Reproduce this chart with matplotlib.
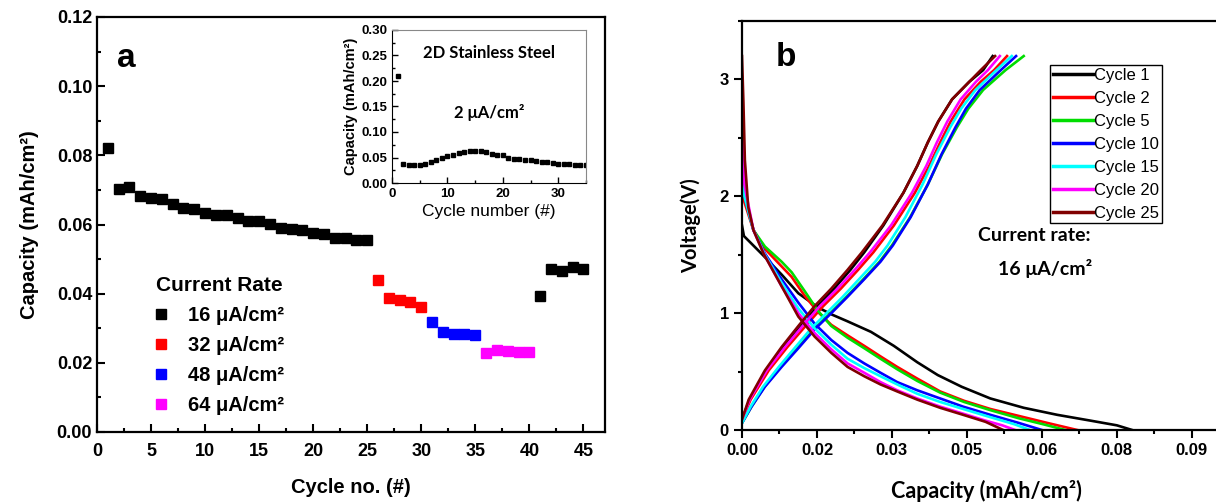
import matplotlib.pyplot as plt
import matplotlib as mpl
from matplotlib.ticker import MultipleLocator, FixedLocator, FixedFormatter

mpl.rcParams['font.family'] = ['Liberation Sans', 'DejaVu Sans']
mpl.rcParams['font.weight'] = 'bold'

# ---------------- panel a: rate capability ----------------
cyc_16a = list(range(1, 26))
cap_16a = [0.0822, 0.0704, 0.0707, 0.0682, 0.0678, 0.0673, 0.0659, 0.0647, 0.0646, 0.0632,
           0.0627, 0.0627, 0.0620, 0.0609, 0.0609, 0.0601, 0.0589, 0.0588, 0.0585, 0.0576,
           0.0572, 0.0561, 0.0561, 0.0555, 0.0555]
cyc_32 = [26, 27, 28, 29, 30]
cap_32 = [0.0440, 0.0388, 0.0383, 0.0377, 0.0361]
cyc_48 = [31, 32, 33, 34, 35]
cap_48 = [0.0317, 0.0290, 0.0283, 0.0283, 0.0280]
cyc_64 = [36, 37, 38, 39, 40]
cap_64 = [0.0227, 0.0237, 0.0235, 0.0231, 0.0231]
cyc_16b = [41, 42, 43, 44, 45]
cap_16b = [0.0394, 0.0470, 0.0466, 0.0476, 0.0470]
rate_labels = ['16 μA/cm²', '32 μA/cm²', '48 μA/cm²', '64 μA/cm²']

# inset: 2D stainless steel
ss_cyc = list(range(1, 36))
ss_cap = [0.210, 0.038, 0.035, 0.036, 0.036, 0.038, 0.042, 0.045, 0.050, 0.053,
          0.055, 0.058, 0.061, 0.063, 0.063, 0.062, 0.061, 0.056, 0.055, 0.054,
          0.050, 0.048, 0.047, 0.046, 0.045, 0.044, 0.042, 0.041, 0.039, 0.038,
          0.037, 0.037, 0.036, 0.035, 0.035]

# ---------------- panel b: voltage profiles ----------------
cycle_names = ['Cycle 1', 'Cycle 2', 'Cycle 5', 'Cycle 10', 'Cycle 15', 'Cycle 20', 'Cycle 25']
cycle_colors = ['#000000', '#ff0000', '#00dd00', '#0000ff', '#00ffff', '#ff00ff', '#800000']

dis_cap = [
    [0, 0.0004, 0.0043, 0.0083, 0.0118, 0.0159, 0.0187, 0.0221, 0.0270, 0.0318, 0.0367, 0.0410,
     0.0460, 0.0520, 0.0590, 0.0660, 0.0730, 0.0785, 0.0817],
    [0, 0.0005, 0.0024, 0.0048, 0.0083, 0.0104, 0.0131, 0.0159, 0.0187, 0.0221, 0.0256, 0.0290,
     0.0325, 0.0367, 0.0415, 0.0465, 0.0520, 0.0580, 0.0640, 0.0702],
    [0, 0.0005, 0.0024, 0.0048, 0.0083, 0.0104, 0.0131, 0.0159, 0.0187, 0.0221, 0.0256, 0.0290,
     0.0325, 0.0367, 0.0415, 0.0465, 0.0520, 0.0580, 0.0630, 0.0677],
    [0, 0.0005, 0.0024, 0.0048, 0.0083, 0.0118, 0.0152, 0.0187, 0.0221, 0.0256, 0.0290, 0.0325,
     0.0367, 0.0415, 0.0463, 0.0520, 0.0580, 0.0628],
    [0, 0.0005, 0.0024, 0.0048, 0.0083, 0.0118, 0.0152, 0.0187, 0.0221, 0.0256, 0.0290, 0.0325,
     0.0367, 0.0415, 0.0463, 0.0520, 0.0570, 0.0603],
    [0, 0.0005, 0.0024, 0.0048, 0.0083, 0.0118, 0.0152, 0.0187, 0.0221, 0.0256, 0.0290, 0.0325,
     0.0367, 0.0415, 0.0463, 0.0510, 0.0545, 0.0572],
    [0, 0.0003, 0.0006, 0.0013, 0.0024, 0.0045, 0.0083, 0.0118, 0.0152, 0.0187, 0.0221, 0.0256,
     0.0290, 0.0325, 0.0367, 0.0415, 0.0463, 0.0510, 0.0547],
]
dis_v = [
    [1.75, 1.66, 1.50, 1.33, 1.17, 1.05, 0.99, 0.93, 0.84, 0.72, 0.58, 0.47, 0.37, 0.27, 0.19,
     0.13, 0.08, 0.04, 0.0],
    [2.30, 1.95, 1.71, 1.55, 1.40, 1.31, 1.15, 1.01, 0.90, 0.81, 0.72, 0.63, 0.54, 0.44, 0.33,
     0.25, 0.18, 0.12, 0.06, 0.0],
    [2.43, 2.00, 1.71, 1.57, 1.44, 1.35, 1.19, 1.02, 0.89, 0.79, 0.70, 0.61, 0.52, 0.42, 0.32,
     0.24, 0.17, 0.10, 0.05, 0.0],
    [2.54, 2.00, 1.71, 1.51, 1.29, 1.09, 0.91, 0.77, 0.66, 0.57, 0.49, 0.41, 0.34, 0.27, 0.20,
     0.13, 0.06, 0.0],
    [2.54, 2.00, 1.71, 1.50, 1.26, 1.04, 0.87, 0.73, 0.61, 0.53, 0.46, 0.39, 0.31, 0.24, 0.18,
     0.11, 0.05, 0.0],
    [2.60, 2.10, 1.71, 1.49, 1.23, 1.00, 0.83, 0.69, 0.57, 0.49, 0.41, 0.34, 0.27, 0.20, 0.14,
     0.08, 0.04, 0.0],
    [3.20, 2.80, 2.31, 1.91, 1.71, 1.51, 1.23, 0.97, 0.80, 0.66, 0.54, 0.46, 0.39, 0.33, 0.26,
     0.19, 0.13, 0.07, 0.0],
]

chg_cap = [
    [0, 0.0016, 0.0052, 0.0088, 0.0124, 0.0158, 0.0193, 0.0227, 0.0256, 0.0296, 0.0338, 0.0367,
     0.0389, 0.0411, 0.0440, 0.0476, 0.0505, 0.0525],
    [0, 0.0018, 0.0056, 0.0095, 0.0133, 0.0170, 0.0207, 0.0243, 0.0275, 0.0318, 0.0362, 0.0392,
     0.0415, 0.0437, 0.0466, 0.0500, 0.0528, 0.0555],
    [0, 0.0020, 0.0047, 0.0081, 0.0116, 0.0150, 0.0185, 0.0219, 0.0254, 0.0288, 0.0314, 0.0352,
     0.0389, 0.0419, 0.0450, 0.0474, 0.0505, 0.0552, 0.0590],
    [0, 0.0020, 0.0048, 0.0083, 0.0118, 0.0152, 0.0187, 0.0221, 0.0256, 0.0290, 0.0316, 0.0353,
     0.0389, 0.0418, 0.0447, 0.0469, 0.0498, 0.0542, 0.0574],
    [0, 0.0018, 0.0044, 0.0077, 0.0110, 0.0143, 0.0177, 0.0211, 0.0245, 0.0279, 0.0305, 0.0342,
     0.0378, 0.0407, 0.0436, 0.0459, 0.0489, 0.0533, 0.0565],
    [0, 0.0016, 0.0052, 0.0090, 0.0127, 0.0163, 0.0200, 0.0236, 0.0268, 0.0312, 0.0356, 0.0386,
     0.0408, 0.0430, 0.0458, 0.0490, 0.0515, 0.0540],
    [0, 0.0014, 0.0048, 0.0083, 0.0118, 0.0152, 0.0187, 0.0221, 0.0251, 0.0294, 0.0338, 0.0367,
     0.0389, 0.0411, 0.0440, 0.0476, 0.0500, 0.0530],
]
v_slow = [0.09, 0.26, 0.51, 0.71, 0.89, 1.06, 1.21, 1.37, 1.52, 1.75, 2.03, 2.26, 2.46, 2.64,
          2.83, 2.98, 3.08, 3.20]
v_fast = [0.06, 0.20, 0.37, 0.54, 0.70, 0.86, 1.00, 1.14, 1.29, 1.44, 1.58, 1.82, 2.10, 2.36,
          2.59, 2.75, 2.91, 3.08, 3.20]
chg_v = [v_slow, v_slow, v_fast, v_fast, v_fast, v_slow, v_slow]

xtick_b = [0, 0.0157, 0.0314, 0.0471, 0.0628, 0.0785, 0.0942]
xtick_b_labels = ['0.00', '0.02', '0.03', '0.05', '0.06', '0.08', '0.09']

# ---------------- figure ----------------
fig = plt.figure(figsize=(12.16, 5.03), dpi=100)

# panel a
ax = fig.add_axes([97 / 1216, 71 / 503, 508 / 1216, 415 / 503])
ms = 7
ax.plot(cyc_16a, cap_16a, 's', color='black', ms=ms, label=rate_labels[0])
ax.plot(cyc_32, cap_32, 's', color='#ff0000', ms=ms, label=rate_labels[1])
ax.plot(cyc_48, cap_48, 's', color='#0000ff', ms=ms, label=rate_labels[2])
ax.plot(cyc_64, cap_64, 's', color='#ff00ff', ms=ms, label=rate_labels[3])
ax.plot(cyc_16b, cap_16b, 's', color='black', ms=ms)
ax.set_xlim(0, 47)
ax.set_ylim(0, 0.12)
ax.xaxis.set_major_locator(MultipleLocator(5))
ax.xaxis.set_minor_locator(MultipleLocator(2.5))
ax.yaxis.set_major_locator(MultipleLocator(0.02))
ax.yaxis.set_minor_locator(MultipleLocator(0.01))
ax.yaxis.set_major_formatter(mpl.ticker.FormatStrFormatter('%.2f'))
ax.tick_params(which='both', direction='in', width=1.5, labelsize=13)
ax.tick_params(axis='x', pad=8)
ax.tick_params(which='major', length=6)
ax.tick_params(which='minor', length=3)
for s in ax.spines.values():
    s.set_linewidth(1.6)
ax.set_xlabel('Cycle no. (#)', fontsize=14.5, fontweight='bold', labelpad=13)
ax.set_ylabel('Capacity (mAh/cm²)', fontsize=14.5, fontweight='bold', labelpad=13)
ax.text(0.04, 0.90, 'a', transform=ax.transAxes, fontsize=24, fontweight='bold',
        ha='left', va='center')
leg = ax.legend(loc='upper left', bbox_to_anchor=(0.092, 0.40), frameon=False,
                title='Current Rate', fontsize=14.5, handlelength=0.7, handletextpad=1.0,
                labelspacing=0.55, borderpad=0,
                title_fontproperties={'weight': 'bold', 'size': 15})

# inset
axi = fig.add_axes([392 / 1216, 320 / 503, 194 / 1216, 153 / 503])
axi.plot(ss_cyc, ss_cap, 's', color='black', ms=3.3)
axi.set_xlim(0, 35)
axi.set_ylim(0, 0.30)
axi.xaxis.set_major_locator(MultipleLocator(10))
axi.xaxis.set_minor_locator(MultipleLocator(5))
axi.yaxis.set_major_locator(MultipleLocator(0.05))
axi.yaxis.set_minor_locator(MultipleLocator(0.025))
axi.yaxis.set_major_formatter(mpl.ticker.FormatStrFormatter('%.2f'))
axi.tick_params(which='both', direction='in', labelsize=9.5, width=1)
axi.tick_params(which='major', length=4)
axi.tick_params(which='minor', length=2)
axi.spines['top'].set_color('#888888')
axi.spines['right'].set_color('#888888')
axi.set_xlabel('Cycle number (#)', fontsize=12.5, fontweight='normal', labelpad=3)
axi.set_ylabel('Capacity (mAh/cm²)', fontsize=10.5, fontweight='bold', labelpad=2)
axi.text(0.5, 0.85, '2D Stainless Steel', transform=axi.transAxes, fontsize=12,
         fontweight='bold', family='Lato', ha='center', va='center')
axi.text(0.5, 0.46, '2 μA/cm²', transform=axi.transAxes, fontsize=12,
         fontweight='bold', family='Lato', ha='center', va='center')

# panel b
bx = fig.add_axes([742 / 1216, 73 / 503, 488 / 1216, 409 / 503])
for i in range(len(cycle_names)):
    bx.plot(dis_cap[i], dis_v[i], '-', color=cycle_colors[i], lw=1.9, label=cycle_names[i])
    bx.plot(chg_cap[i], chg_v[i], '-', color=cycle_colors[i], lw=1.9)
bx.set_xlim(0, 0.1022)
bx.set_ylim(0, 3.5)
bx.xaxis.set_major_locator(FixedLocator(xtick_b))
bx.xaxis.set_major_formatter(FixedFormatter(xtick_b_labels))
bx.xaxis.set_minor_locator(MultipleLocator(0.00785))
bx.yaxis.set_major_locator(MultipleLocator(1))
bx.yaxis.set_minor_locator(MultipleLocator(0.5))
bx.tick_params(which='both', direction='out', width=1.5, labelsize=12)
bx.tick_params(which='major', length=6)
bx.tick_params(which='minor', length=3)
for s in bx.spines.values():
    s.set_linewidth(1.6)
bx.spines['right'].set_visible(False)
bx.set_xlabel('Capacity (mAh/cm²)', fontsize=15.5, fontweight='bold', family='Lato', labelpad=16)
bx.set_ylabel('Voltage(V)', fontsize=14.5, fontweight='bold', family='Lato', labelpad=13)
bx.text(0.07, 0.91, 'b', transform=bx.transAxes, fontsize=24, fontweight='bold',
        ha='left', va='center')
bx.text(0.483, 0.475, 'Current rate:', transform=bx.transAxes, fontsize=14,
        fontweight='bold', family='Lato', ha='left', va='center')
bx.text(0.525, 0.395, '16 μA/cm²', transform=bx.transAxes, fontsize=14,
        fontweight='bold', family='Lato', ha='left', va='center')
lb = bx.legend(loc='upper left', bbox_to_anchor=((1050 - 742) / 488, (430 - 65) / 409),
               prop={'weight': 'normal', 'size': 12}, frameon=True, fancybox=False,
               edgecolor='black', framealpha=1, borderpad=0.15, handlelength=2.4,
               handletextpad=0.1, labelspacing=0.48, borderaxespad=0)
lb.get_frame().set_linewidth(1)
for line in lb.get_lines():
    line.set_linewidth(2.5)

fig.savefig('out.png', dpi=100)
